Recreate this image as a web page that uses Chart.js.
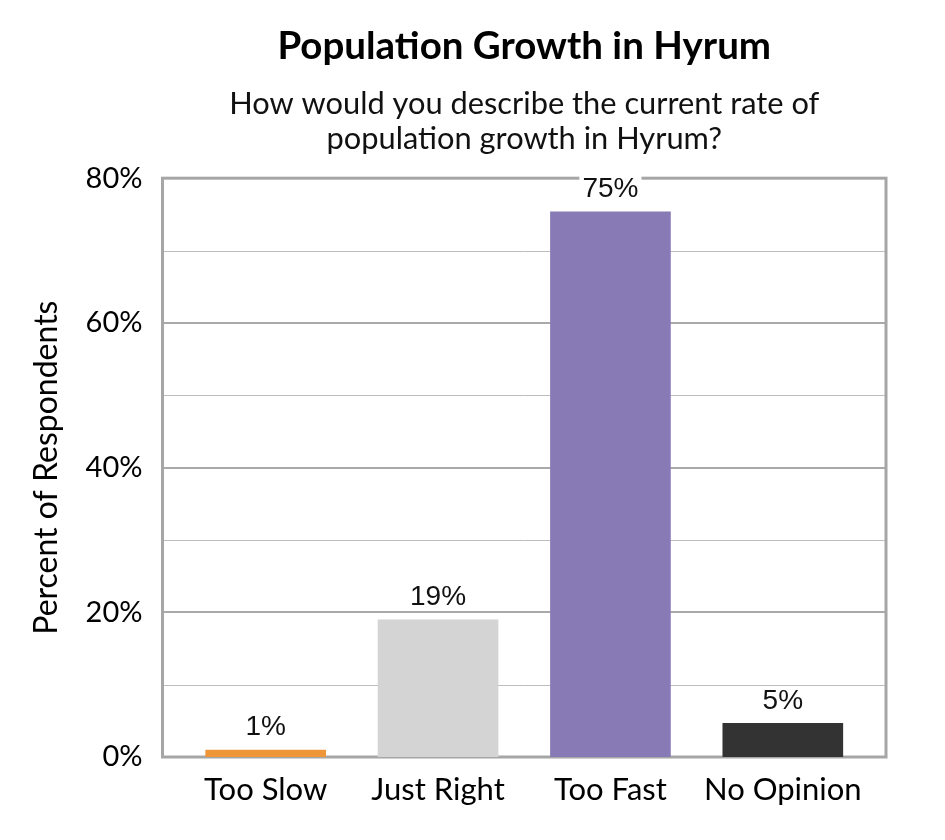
<!DOCTYPE html>
<html>
<head>
<meta charset="utf-8">
<script src="https://cdn.jsdelivr.net/npm/chart.js@4.4.1/dist/chart.umd.min.js"></script>
<style>
  html, body { margin: 0; padding: 0; background: #fff; }
  #wrap { width: 945px; height: 840px; }
</style>
</head>
<body>
<div id="wrap"><canvas id="chart" width="945" height="840"></canvas></div>
<script>
const categories = ['Too Slow', 'Just Right', 'Too Fast', 'No Opinion'];
const percentages = [1.0, 19.0, 75.4, 4.7];
const valueLabels = ['1%', '19%', '75%', '5%'];
const barColors = ['#ee9638', '#d4d4d4', '#887ab5', '#333333'];

const frameColor = '#a6a6a6';
const frameInset = 17; // plot frame sits a bit wider than the category band

// grid lines + frame round the plot area, drawn before the bars
const framePlugin = {
  id: 'frame',
  beforeDatasetsDraw(chart) {
    const { ctx, chartArea: a, scales } = chart;
    const y = scales.y;
    const left = a.left - frameInset;
    const right = a.right + frameInset;
    ctx.save();
    y.ticks.forEach(t => {
      const py = y.getPixelForValue(t.value);
      const major = t.value % 20 === 0;
      ctx.strokeStyle = major ? '#a9a9a9' : '#bdbdbd';
      ctx.lineWidth = major ? 2 : 1;
      ctx.beginPath();
      ctx.moveTo(left, major ? Math.round(py) : Math.round(py) + 0.5);
      ctx.lineTo(right, major ? Math.round(py) : Math.round(py) + 0.5);
      ctx.stroke();
    });
    ctx.strokeStyle = frameColor;
    ctx.lineWidth = 3;
    ctx.strokeRect(left, a.top, right - left, a.bottom - a.top);
    ctx.restore();
  }
};

// value labels above bars, with a white box behind them
const valueLabelPlugin = {
  id: 'valueLabels',
  afterDatasetsDraw(chart) {
    const { ctx } = chart;
    const meta = chart.getDatasetMeta(0);
    ctx.save();
    ctx.font = '28px "Liberation Sans", Arial, sans-serif';
    ctx.textAlign = 'center';
    ctx.textBaseline = 'middle';
    meta.data.forEach((bar, i) => {
      const text = valueLabels[i];
      const y = bar.y - 23;
      const w = ctx.measureText(text).width + 6;
      ctx.fillStyle = '#fff';
      ctx.fillRect(bar.x - w / 2, y - 14, w, 28);
      ctx.fillStyle = '#111';
      ctx.fillText(text, bar.x, y + 1);
    });
    ctx.restore();
  }
};

const uiFont = 'Lato, "Open Sans", sans-serif';

new Chart(document.getElementById('chart'), {
  type: 'bar',
  data: {
    labels: categories,
    datasets: [{
      data: percentages,
      backgroundColor: barColors,
      barPercentage: 0.70,
      categoryPercentage: 1
    }]
  },
  options: {
    responsive: false,
    animation: false,
    devicePixelRatio: 1,
    layout: { padding: { left: 0, right: 76, top: 0, bottom: 0 } },
    plugins: {
      legend: { display: false },
      tooltip: { enabled: false },
      title: {
        display: true,
        fullSize: false,
        text: 'Population Growth in Hyrum',
        color: '#000',
        font: { family: uiFont, size: 38.5, weight: 'bold', lineHeight: 1.2 },
        padding: { top: 23, bottom: 18 }
      },
      subtitle: {
        display: true,
        fullSize: false,
        text: ['How would you describe the current rate of', 'population growth in Hyrum?'],
        color: '#111',
        font: { family: uiFont, size: 30.8, lineHeight: 1.12 },
        padding: { top: 0, bottom: 22 }
      }
    },
    scales: {
      x: {
        grid: { display: false },
        border: { display: false },
        ticks: {
          color: '#000',
          font: { family: uiFont, size: 31 },
          padding: 6
        },
        afterFit(scale) { scale.height = 83; }
      },
      y: {
        min: 0,
        max: 80,
        border: { display: false },
        grid: { display: false, drawTicks: false },
        ticks: {
          stepSize: 10,
          color: '#000',
          padding: 37,
          font: { family: uiFont, size: 29 },
          callback: v => v % 20 === 0 ? v + '%' : ''
        },
        title: {
          display: true,
          text: 'Percent of Respondents',
          color: '#000',
          font: { family: uiFont, size: 32, lineHeight: 1.2 },
          padding: { top: 27, bottom: 0 }
        },
        afterFit(scale) { scale.width = 179.5; }
      }
    }
  },
  plugins: [framePlugin, valueLabelPlugin]
});
</script>
</body>
</html>
